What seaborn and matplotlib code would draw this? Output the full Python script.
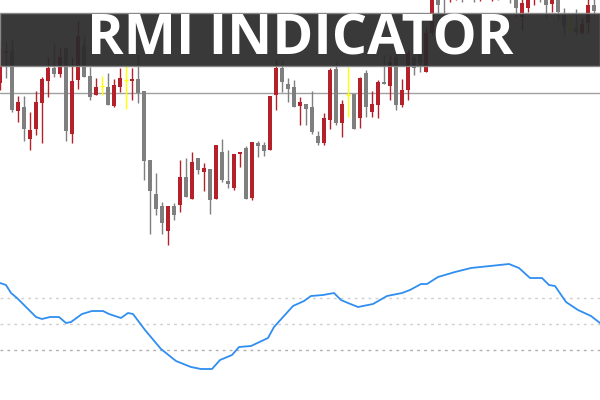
import matplotlib
matplotlib.use("Agg")
import matplotlib.pyplot as plt
import seaborn as sns
import numpy as np
import pandas as pd

# candle data (kind: R=up/red, G=down/gray, Y=doji/yellow); values in chart points (larger = higher)
kind = list("RGGRGRRRRGRGRRGGRYGRRYRGGGGGRGRGRGRGRGGRRGRGGRRGGGRGGGRRGRYGRGRRGRGRRGGRRGGRRGRGRGRGRGGRRRGGRGGYGRRG")
body_top = [48,51,51,102,107,130,102,79,68,68,57,48,81,36,45,76,87,85,87,85,78,79,79,79,91,160,194,206,206,206,177,177,162,158,168,169,145,152,181,154,152,148,142,143,145,96,68,68,84,87,102,104,107,136,118,70,69,104,94,94,78,73,104,82,82,62,57,90,53,58,48,33,-2,-15,-20,-30,-25,-28,-35,-30,-38,-32,-30,-28,-35,-25,-8,3,-8,-10,-12,-8,-6,-10,15,28,28,24,5,5]
body_bot = [83,53,110,111,129,139,129,103,81,74,74,131,134,80,77,97,95,86,105,106,87,80,81,93,161,191,209,223,231,215,205,197,199,170,172,200,199,180,184,188,154,199,198,146,151,150,95,82,89,107,106,109,132,143,143,120,123,123,95,129,118,107,112,105,84,86,105,105,90,68,63,72,33,5,-5,-8,-12,-15,-20,-10,-18,-12,-15,-8,-12,-10,8,17,8,-3,-4,5,4,12,27,29,32,33,23,11]
wick_top = [40,42,39,96,96,112,91,77,57,43,48,48,57,21,36,67,78,76,73,79,68,63,68,54,91,160,173,202,206,203,160,158,152,158,163,169,145,139,150,154,152,146,142,141,142,96,60,60,78,80,97,104,91,131,113,68,62,100,67,94,77,70,91,80,55,55,50,79,50,55,45,28,-10,-20,-25,-35,-30,-35,-40,-38,-45,-40,-38,-35,-40,-30,-12,-5,-12,-15,-20,-12,-10,-15,8,15,9,18,-5,-3]
wick_bot = [90,78,112,122,141,150,135,143,97,77,77,141,143,89,77,100,95,95,105,107,92,109,100,103,180,234,215,234,245,220,212,197,199,174,191,214,199,182,188,190,167,199,200,157,156,150,110,92,102,107,125,125,134,145,145,129,125,137,117,129,128,117,117,118,84,100,110,107,100,75,72,72,35,15,14,2,0,2,-2,2,1,-3,1,0,-2,3,18,30,12,5,2,18,12,20,35,32,35,34,33,15]

# RMI indicator line
rmi_idx = [0,6,11,17,27,36,42,50,59,66,71,82,92,103,109,121,128,133,145,161,176,191,201,212,220,232,239,251,268,274,293,304,311,323,334,341,348,358,373,387,402,410,421,427,438,455,471,490,509,519,530,542,549,555,566,578,591,600]
rmi_px = [283,285,293,298,308,317,319,317,317,323,322,314,311,311,314,318,313,314,330,349,361,367,369,369,360,355,347,346,338,327,306,301,296,295,293,300,303,307,304,296,293,290,284,284,277,272,268,266,264,268,278,278,285,286,302,310,316,323]
levels = [70, 50, 30]

BASE = 300.0
o = []; c = []
for k, t, b in zip(kind, body_top, body_bot):
    if k == "R":
        o.append(BASE - b); c.append(BASE - t)
    else:
        o.append(BASE - t); c.append(BASE - b)
df = pd.DataFrame({"i": np.arange(len(kind)), "kind": kind, "open": o, "close": c,
                   "high": [BASE - v for v in wick_top], "low": [BASE - v for v in wick_bot]})
rmi = pd.DataFrame({"bar": np.array(rmi_idx) / 6.0, "rmi": 30 + (350 - np.array(rmi_px)) / 1.3})

sns.set_style("white")
fig = plt.figure(figsize=(6, 4), dpi=100)
ax = fig.add_axes([0, 0.375, 1, 0.625])
ax2 = fig.add_axes([0, 0, 1, 0.375])

colors = {"R": "#b5212a", "G": "#7f7f7f", "Y": "#ffff00"}
for _, r in df.iterrows():
    col = colors[r["kind"]]
    ax.vlines(r["i"], r["low"], r["high"], color=col, lw=1, zorder=2)
    lo = min(r["open"], r["close"]); hi = max(r["open"], r["close"])
    if r["kind"] == "Y":
        ax.hlines(lo, r["i"] - 0.3, r["i"] + 0.3, color=col, lw=1, zorder=3)
    else:
        ax.bar(r["i"], max(hi - lo, 1.5), bottom=lo, width=0.62, color=col, zorder=3, linewidth=0)
ax.axhline(BASE - 93, color="#a0a0a0", lw=1, zorder=1)
ax.set_xlim(0, 100)
ax.set_ylim(BASE - 250, BASE)
ax.axis("off")

sns.lineplot(data=rmi, x="bar", y="rmi", ax=ax2, color="#2f8ef0", lw=1.3)
for lv, col in zip(levels, ["#d0d0d0", "#d0d0d0", "#b0b0b0"]):
    ax2.axhline(lv, color=col, lw=1, ls=(0, (2, 3)), zorder=0)
ax2.set_xlim(0, 100)
ax2.set_ylim(30 - 50 / 1.3, 30 + 100 / 1.3)
ax2.axis("off")

fig.patches.append(plt.Rectangle((0, 1 - 66 / 400), 1, 53 / 400, transform=fig.transFigure,
                                 facecolor="#2a2a2a", alpha=0.93, edgecolor="#888888", lw=1, zorder=10))
fig.text(0.5, 1 - 40 / 400, "RMI INDICATOR", ha="center", va="center", color="white",
         fontsize=40, fontweight="bold", family=["Open Sans", "DejaVu Sans"], zorder=11)

fig.savefig("out.png", dpi=100)
